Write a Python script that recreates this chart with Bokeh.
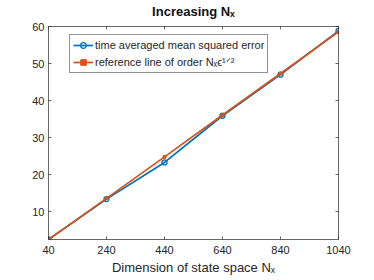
from bokeh.plotting import figure
from bokeh.models import (LinearAxis, FixedTicker, Range1d, Legend,
                          LegendItem, CustomJSTickFormatter)
from bokeh.embed import file_html
from bokeh.resources import INLINE

# ---- data ----
nx = [40, 240, 440, 640, 840, 1040]
mse = [2.5, 13.4, 23.3, 35.9, 47.0, 58.8]
ref = [2.5, 13.6, 24.8, 36.1, 47.3, 58.6]
x_ticks = [40, 240, 440, 640, 840, 1040]
y_ticks = [10, 20, 30, 40, 50, 60]
x_lim = (40, 1040)
y_lim = (2.5, 60)

title_text = "Increasing N\u2093"
x_label = "Dimension of state space N\u2093"
series_labels = ["time averaged mean squared error",
                 "reference line of order N\u2093\u03f5\u00b9\u141f\u00b2"]

BLUE = "#0072BD"
ORANGE = "#D95319"
AX = "#262626"
FONT = "Liberation Sans"

p = figure(width=374, height=280,
           x_range=Range1d(*x_lim), y_range=Range1d(*y_lim),
           output_backend="svg", toolbar_location=None, title=None,
           min_border_left=48, min_border_right=36,
           min_border_top=25, min_border_bottom=41,
           background_fill_color="white", border_fill_color="white")
p.xgrid.visible = False
p.ygrid.visible = False
p.outline_line_color = None


def style(ax, ticks, labels=True):
    ax.ticker = FixedTicker(ticks=ticks)
    ax.major_tick_in = 3
    ax.major_tick_out = 0
    ax.minor_tick_line_color = None
    ax.axis_line_color = AX
    ax.axis_line_width = 0.7
    ax.major_tick_line_color = AX
    ax.major_tick_line_width = 0.7
    ax.major_label_text_font = FONT
    ax.major_label_text_font_size = "11px"
    ax.major_label_text_color = AX
    ax.axis_label_text_font = FONT
    ax.axis_label_text_color = AX
    ax.axis_label_text_font_style = "normal"
    if not labels:
        ax.formatter = CustomJSTickFormatter(code="return ''")
        ax.major_label_standoff = 0
        ax.major_label_text_font_size = "0px"


xa = p.xaxis[0]
style(xa, x_ticks)
xa.major_label_standoff = 6
xa.axis_label = x_label
xa.axis_label_text_font_size = "13px"
xa.axis_label_standoff = 3

ya = p.yaxis[0]
style(ya, y_ticks)
ya.major_label_standoff = 4

top = LinearAxis()
style(top, x_ticks, labels=False)
top.axis_label = title_text
top.axis_label_text_font_size = "13px"
top.axis_label_text_font_style = "bold"
top.axis_label_text_color = "#111111"
top.axis_label_standoff = 8
p.add_layout(top, "above")

right = LinearAxis()
style(right, y_ticks, labels=False)
p.add_layout(right, "right")

l1 = p.line(nx, mse, line_color=BLUE, line_width=1.7)
s1 = p.scatter(nx, mse, marker="circle", size=5, line_color=BLUE,
               fill_color=None, line_width=1.3)
l2 = p.line(nx, ref, line_color=ORANGE, line_width=1.7)
s2 = p.scatter(nx, ref, marker="square", size=2.8, line_color=ORANGE,
               fill_color=ORANGE)

legend = Legend(items=[
    LegendItem(label=series_labels[0], renderers=[l1, s1]),
    LegendItem(label=series_labels[1], renderers=[l2, s2]),
], location=(21, 166))
legend.glyph_width = 20
legend.glyph_height = 14
legend.label_height = 14
legend.label_standoff = 2
legend.padding = 3
legend.spacing = 3
legend.margin = 0
legend.border_line_color = AX
legend.border_line_width = 0.6
legend.background_fill_color = "white"
legend.background_fill_alpha = 1
legend.label_text_font = FONT
legend.label_text_font_size = "11px"
legend.label_text_color = AX
p.add_layout(legend)

open("out.html", "w").write(file_html(p, INLINE))
